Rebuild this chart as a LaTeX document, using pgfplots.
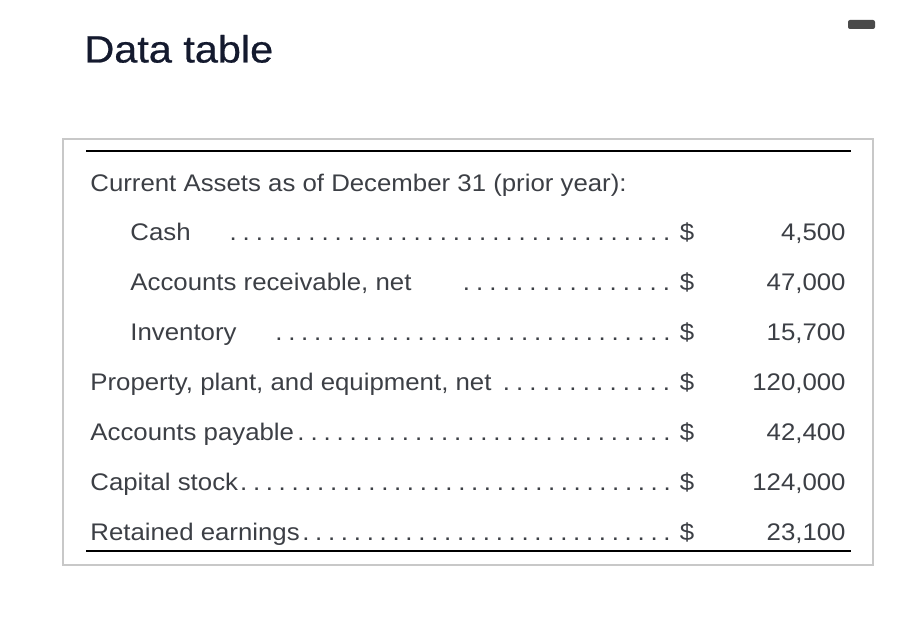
\documentclass[border=0pt]{standalone}
\usepackage{fontspec}
\setmainfont{Liberation Sans}[FakeStretch=1.075]
\newfontfamily\titlefont{Liberation Sans}[FakeStretch=1.09, FakeBold=0.6]
\usepackage{pgfplots}
\pgfplotsset{compat=1.18}
\definecolor{bodytext}{HTML}{3C3F45}
\definecolor{titletext}{HTML}{141A2E}
\definecolor{framegray}{HTML}{C8C8C8}
\definecolor{icongray}{HTML}{4A4A4A}
\newcommand{\bodyfont}{\fontsize{12}{14}\selectfont}
\newcommand{\leaderto}[1]{\hbox to \dimexpr 336.5pt-#1pt/2\relax{\xleaders\hbox to 6.4pt{\hss.\hss}\hfill}}
\newcommand{\tablerow}[4]{%
  \node[anchor=base west, inner sep=0pt, text=bodytext, font=\bodyfont] at (axis cs:#2,#1) {#3};
  \node[anchor=base west, inner sep=0pt, text=bodytext, font=\bodyfont] at (axis cs:#4,#1) {\leaderto{#4}};
  \node[anchor=base, inner sep=0pt, text=bodytext, font=\bodyfont] at (axis cs:687,#1) {\$};
}
\begin{document}
\begin{tikzpicture}
\begin{axis}[
  width=450.5pt, height=320.5pt, scale only axis,
  xmin=0, xmax=901, ymin=0, ymax=641, y dir=reverse,
  hide axis, clip=false,
  /pgf/number format/assume math mode=true,
]
\path (axis cs:0,0) rectangle (axis cs:901,641);
% frame and rules
\draw[framegray, line width=1pt] (axis cs:63,139) rectangle (axis cs:873,565);
\draw[black, line width=1.2pt] (axis cs:86,151) -- (axis cs:851,151);
\draw[black, line width=1.2pt] (axis cs:86,551) -- (axis cs:851,551);
\fill[icongray, rounded corners=1pt] (axis cs:848,20) rectangle (axis cs:875,29);
% title
\node[anchor=base west, inner sep=0pt, text=titletext, font=\titlefont\fontsize{19}{23}\selectfont] at (axis cs:84,62.5) {Data table};
% header
\node[anchor=base west, inner sep=0pt, text=bodytext, font=\bodyfont] at (axis cs:90,191.5) {Current Assets as of December 31 (prior year):};
% rows
\tablerow{240.5}{130}{Cash}{226}
\tablerow{290.5}{130}{Accounts receivable, net}{459}
\tablerow{340.5}{130}{Inventory}{272}
\tablerow{390.5}{90}{Property, plant, and equipment, net}{499}
\tablerow{440.5}{90}{Accounts payable}{294}
\tablerow{490.5}{90}{Capital stock}{237}
\tablerow{540.5}{90}{Retained earnings}{299}
% values
\addplot[draw=none, mark=none,
  point meta=explicit,
  nodes near coords={\pgfmathprintnumber[fixed,precision=0,1000 sep={,}]{\pgfplotspointmeta}},
  nodes near coords align={anchor=base east},
  every node near coord/.append style={font=\bodyfont, text=bodytext, inner sep=0pt, anchor=base east},
] table[x=x, y=y, meta=v] {
x y v
846 240.5 4500
846 290.5 47000
846 340.5 15700
846 390.5 120000
846 440.5 42400
846 490.5 124000
846 540.5 23100
};
\end{axis}
\end{tikzpicture}
\end{document}
